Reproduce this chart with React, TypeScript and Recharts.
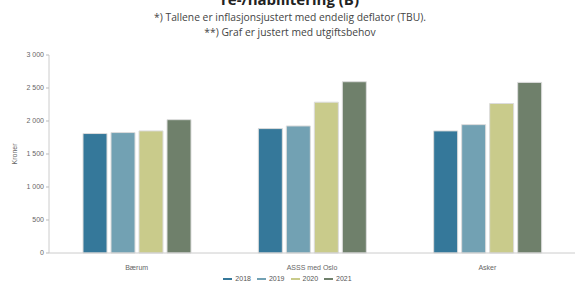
import React from "react";
import {
  BarChart,
  Bar,
  XAxis,
  YAxis,
  Legend,
} from "recharts";

const categories = ["Bærum", "ASSS med Oslo", "Asker"];
const v2018 = [1810, 1885, 1850];
const v2019 = [1825, 1925, 1945];
const v2020 = [1850, 2285, 2265];
const v2021 = [2020, 2595, 2585];
const yTicks = [0, 500, 1000, 1500, 2000, 2500, 3000];

const series = [
  { key: "2018", values: v2018, color: "#35789a" },
  { key: "2019", values: v2019, color: "#72a1b3" },
  { key: "2020", values: v2020, color: "#c9cb8b" },
  { key: "2021", values: v2021, color: "#6f806b" },
];

const data = categories.map((name, i) => {
  const row: Record<string, string | number> = { name };
  series.forEach((s) => (row[s.key] = s.values[i]));
  return row;
});

const fmt = (v: number) => String(v).replace(/\B(?=(\d{3})+(?!\d))/g, " ");

const axisFont = "'Liberation Sans', Arial, sans-serif";

function LegendContent() {
  return (
    <div
      style={{
        display: "flex",
        justifyContent: "center",
        gap: 6,
        fontFamily: axisFont,
        fontSize: 7,
        color: "#555",
        lineHeight: "10px",
      }}
    >
      {series.map((s) => (
        <span key={s.key} style={{ display: "flex", alignItems: "center" }}>
          <span
            style={{
              display: "inline-block",
              width: 9,
              height: 2,
              background: s.color,
              marginRight: 3,
            }}
          />
          {s.key}
        </span>
      ))}
    </div>
  );
}

export default function App() {
  return (
    <div
      style={{
        position: "absolute",
        left: 0,
        top: 0,
        width: 580,
        height: 284,
        background: "#fff",
        overflow: "hidden",
      }}
    >
      <div
        style={{
          position: "absolute",
          top: -10,
          width: 580,
          textAlign: "center",
          fontFamily: "'Open Sans', sans-serif",
          fontWeight: 700,
          fontSize: 15,
          lineHeight: "18px",
          color: "#222",
        }}
      >
        re-/habilitering (B)
      </div>
      <div
        style={{
          position: "absolute",
          top: 10,
          width: 580,
          textAlign: "center",
          fontFamily: "'Open Sans', sans-serif",
          fontSize: 10.3,
          lineHeight: "15px",
          color: "#444",
        }}
      >
        *) Tallene er inflasjonsjustert med endelig deflator (TBU).
        <br />
        **) Graf er justert med utgiftsbehov
      </div>
      <BarChart
        width={580}
        height={284}
        data={data}
        margin={{ top: 55, right: 5, bottom: 0, left: 0 }}
        barSize={24}
        barGap={4}
      >
        <XAxis
          dataKey="name"
          tickLine={false}
          axisLine={{ stroke: "#ccc" }}
          tick={{ fontSize: 7, fill: "#666", fontFamily: axisFont }}
          tickMargin={6}
          height={21}
        />
        <YAxis
          domain={[0, 3000]}
          ticks={yTicks}
          width={49}
          tickFormatter={fmt}
          tickSize={3}
          tickMargin={2}
          tickLine={{ stroke: "#bbb" }}
          axisLine={{ stroke: "#ccc" }}
          tick={{ fontSize: 7, fill: "#666", fontFamily: axisFont }}
          label={{
            value: "Kroner",
            angle: -90,
            position: "insideLeft",
            offset: 15,
            style: { fontSize: 7, fill: "#666", fontFamily: axisFont, textAnchor: "middle" },
          }}
        />
        <Legend verticalAlign="bottom" height={10} content={<LegendContent />} />
        {series.map((s) => (
          <Bar
            key={s.key}
            dataKey={s.key}
            fill={s.color}
            stroke="#dcdcdc"
            strokeWidth={1}
            isAnimationActive={false}
          />
        ))}
      </BarChart>
    </div>
  );
}
